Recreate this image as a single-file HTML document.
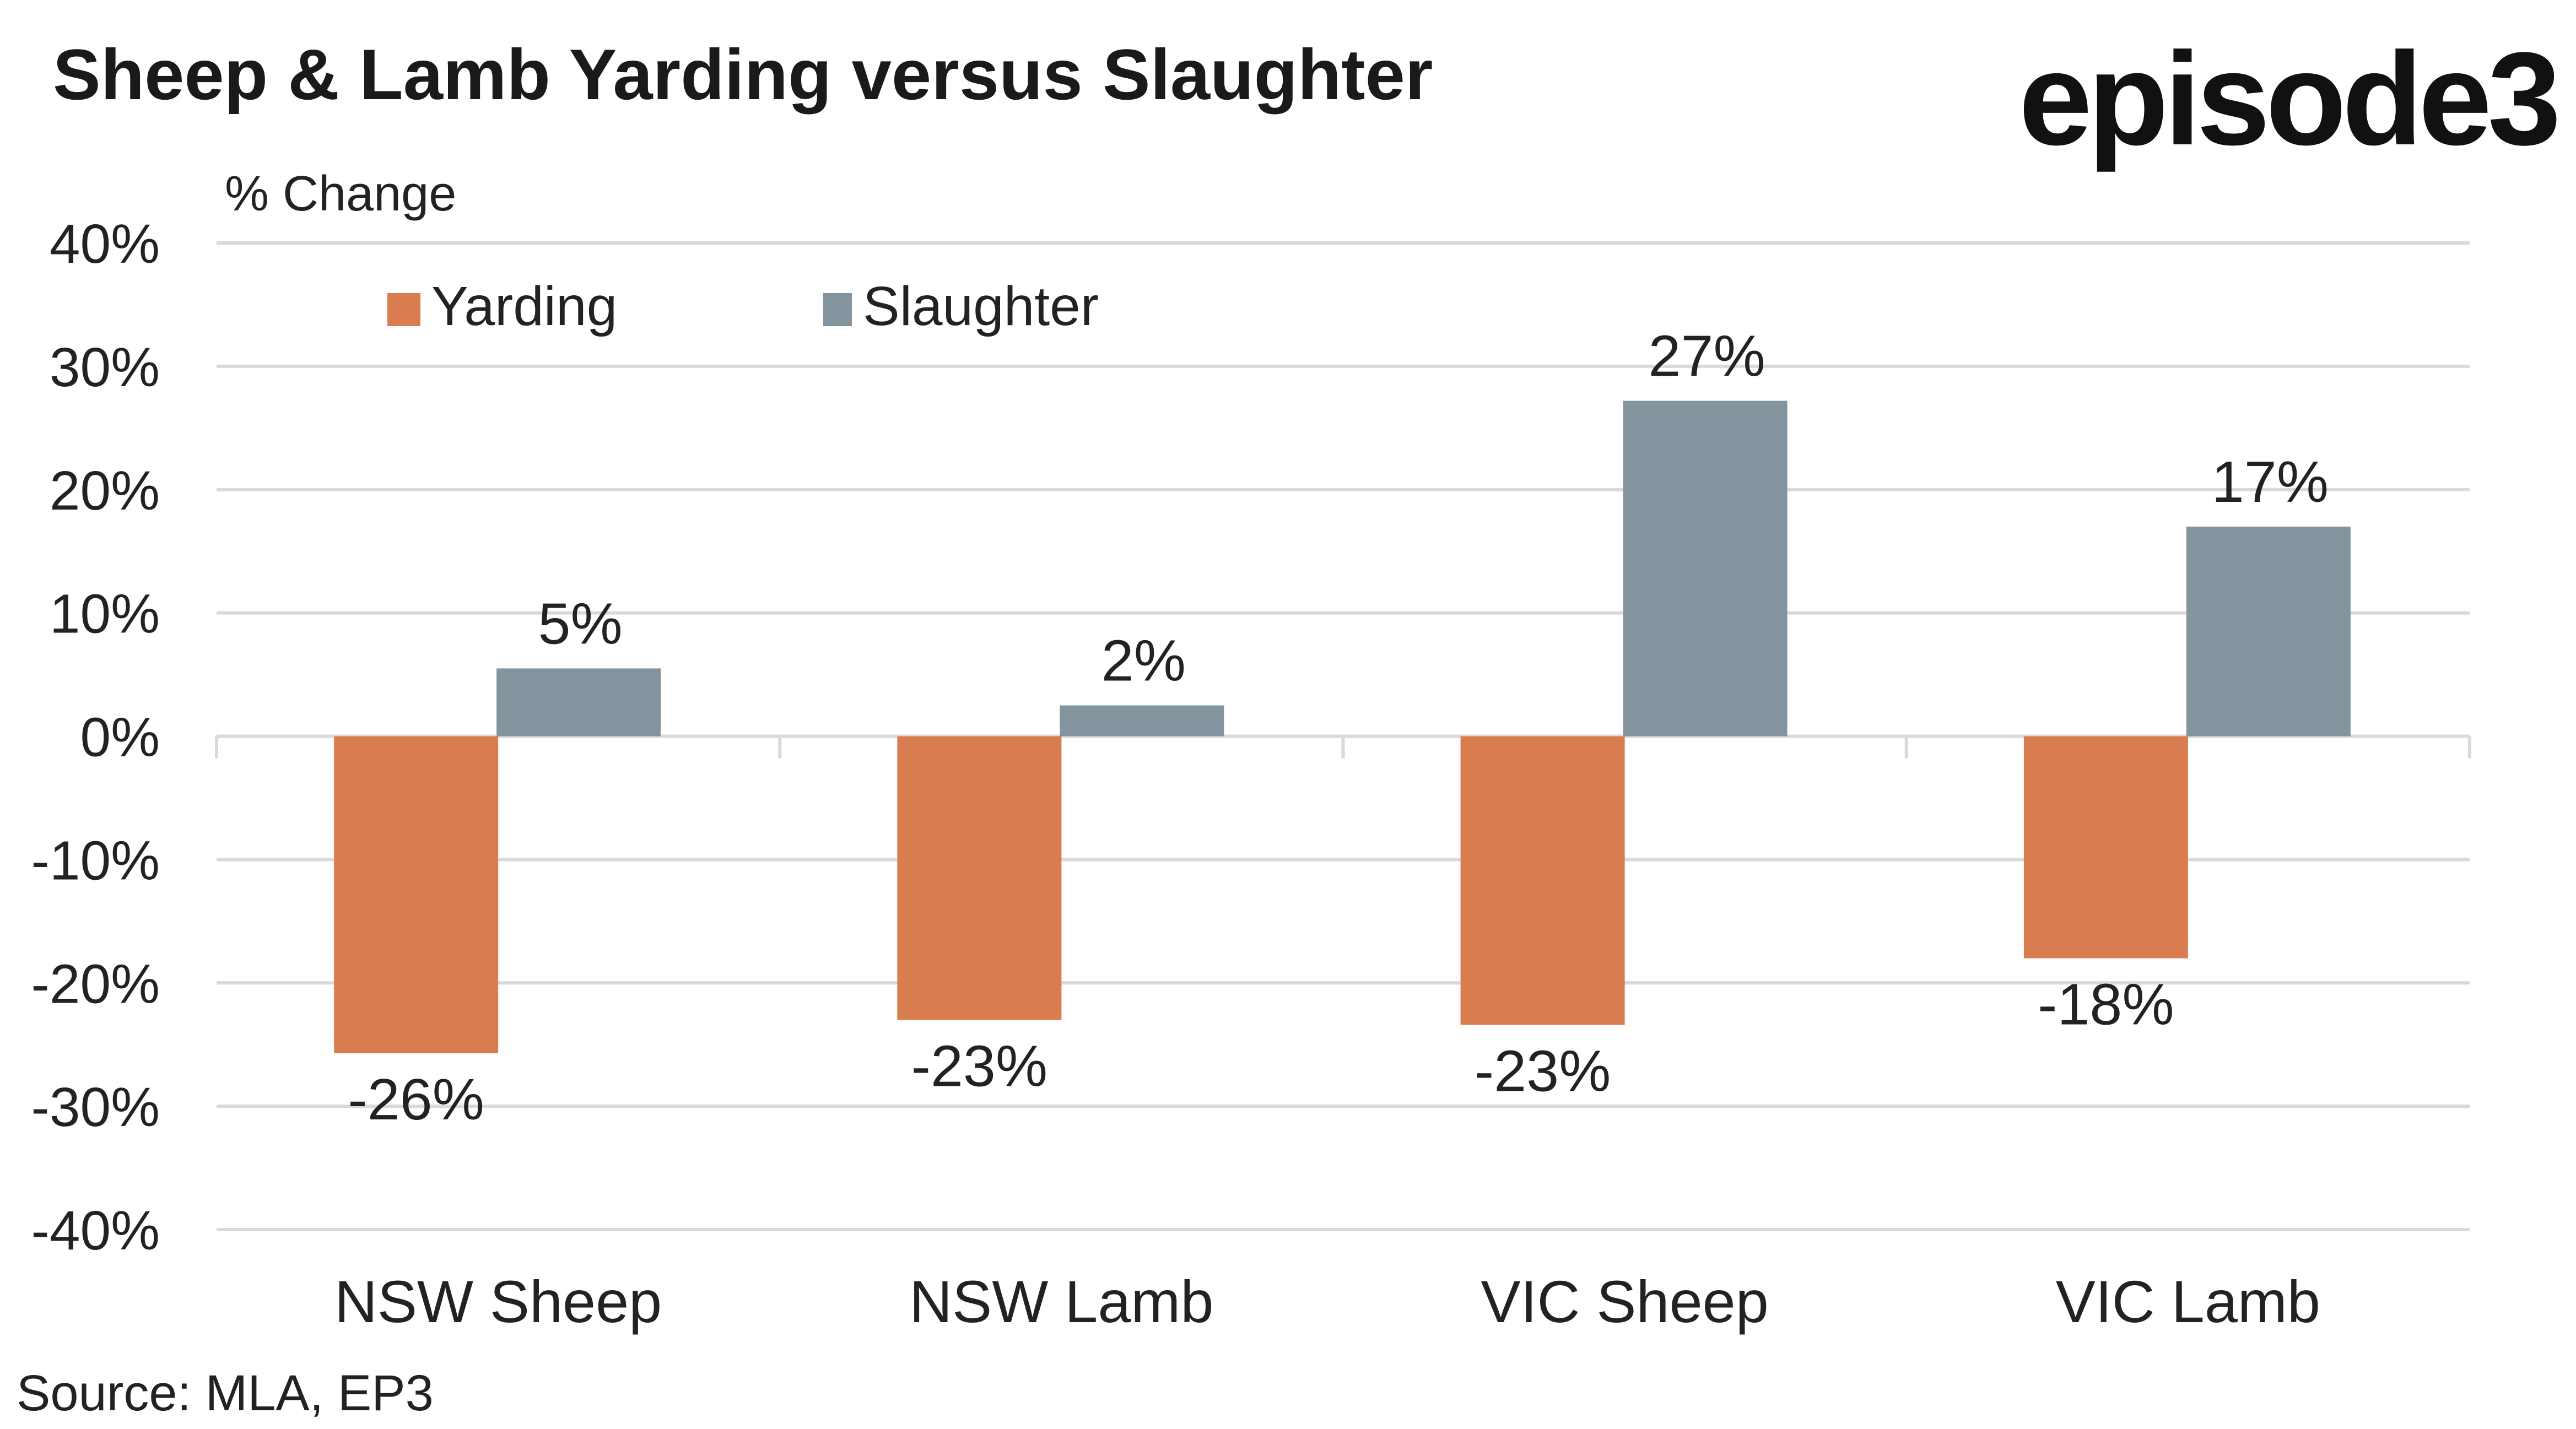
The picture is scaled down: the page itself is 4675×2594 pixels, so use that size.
<!DOCTYPE html>
<html><head><meta charset="utf-8"><style>
html,body{margin:0;padding:0;background:#fff}
svg{display:block;font-family:"Liberation Sans",sans-serif}
</style></head><body>
<svg id="chart" width="4675" height="2594" viewBox="0 0 4675 2594">
<text x="96" y="180" font-size="130" font-weight="bold" fill="#1a1a1a">Sheep &amp; Lamb Yarding versus Slaughter</text>
<text x="4640" y="262" text-anchor="end" font-size="240" font-weight="bold" fill="#111" letter-spacing="-8">episode3</text>
<text x="408" y="382" font-size="90" fill="#222">% Change</text>
<g id="grid"></g>
<g id="bars"></g>
<g id="legend">
<rect x="703" y="532" width="60" height="60" fill="#d97d50"/>
<text x="783" y="590" font-size="100" fill="#222">Yarding</text>
<rect x="1494" y="532" width="52" height="60" fill="#84949e"/>
<text x="1566" y="590" font-size="100" fill="#222">Slaughter</text>
</g>
<text x="30" y="2560" font-size="92" fill="#222">Source: MLA, EP3</text>
</svg>
<script>
const categories = ["NSW Sheep","NSW Lamb","VIC Sheep","VIC Lamb"];
const yarding = [-25.7,-23,-23.4,-18];
const slaughter = [5.5,2.5,27.2,17];
const yardingLabels = ["-26%","-23%","-23%","-18%"];
const slaughterLabels = ["5%","2%","27%","17%"];
const ticks = [40,30,20,10,0,-10,-20,-30,-40];

const NS="http://www.w3.org/2000/svg";
const X0=393,X1=4482,Y40=441,YM40=2232;
const y=v=>Y40+(40-v)*(YM40-Y40)/80;
const band=(X1-X0)/categories.length;
const cx=i=>X0+band*(i+0.5);
function mk(tag,attrs,parent,txt){const e=document.createElementNS(NS,tag);for(const k in attrs)e.setAttribute(k,attrs[k]);if(txt!==undefined)e.textContent=txt;parent.appendChild(e);return e;}
const grid=document.getElementById('grid'),bars=document.getElementById('bars');
ticks.forEach(t=>{
  const l=mk('line',{x1:X0,x2:X1,y1:y(t),y2:y(t),stroke:'#d9d9d9','stroke-width':6},grid);
  
  
  const tx=mk('text',{x:290,y:y(t)+36,'text-anchor':'end','font-size':100,fill:'#222'},grid,t+'%');
  
  
});
for(let i=0;i<=categories.length;i++){
  const tk=mk('line',{x1:X0+band*i,x2:X0+band*i,y1:y(0),y2:y(0)+40,stroke:'#d9d9d9','stroke-width':6},grid);
  
  
}
const bw=298;
categories.forEach((c,i)=>{
  const yv=yarding[i],sv=slaughter[i];
  const r1=mk('rect',{x:cx(i)-bw,y:Math.min(y(0),y(yv)),width:bw,height:Math.abs(y(yv)-y(0)),fill:'#d97d50'},bars);
  
  
  const r2=mk('rect',{x:cx(i)-3,y:Math.min(y(0),y(sv)),width:bw,height:Math.abs(y(sv)-y(0)),fill:'#84949e'},bars);
  
  
  const l1=mk('text',{x:cx(i)-bw/2,y:(yv<0?y(yv)+120:y(yv)-30),'text-anchor':'middle','font-size':106,fill:'#222'},bars,yardingLabels[i]);
  
  
  const l2=mk('text',{x:cx(i)+bw/2,y:(sv<0?y(sv)+115:y(sv)-45),'text-anchor':'middle','font-size':106,fill:'#222'},bars,slaughterLabels[i]);
  
  
  const cl=mk('text',{x:cx(i),y:2400,'text-anchor':'middle','font-size':108,fill:'#222'},bars,c);
  
  
});
</script>
</body></html>
